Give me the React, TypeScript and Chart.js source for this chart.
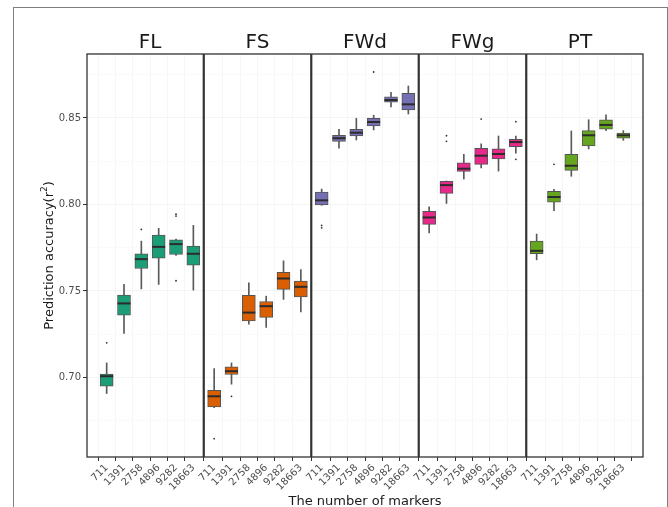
import React, { useEffect, useRef } from 'react';
import { Chart, registerables } from 'chart.js';

Chart.register(...registerables);

// ---------- data ----------
const markers = ['711', '1391', '2758', '4896', '9282', '18663'];
const traits = ['FL', 'FS', 'FWd', 'FWg', 'PT'];
const yTickValues = [0.675, 0.7, 0.725, 0.75, 0.775, 0.8, 0.825, 0.85, 0.875];

const FL_low = [0.6907, 0.7254, 0.7512, 0.7538, 0.7705, 0.7505];
const FL_q1 = [0.6949, 0.736, 0.763, 0.769, 0.7711, 0.7649];
const FL_med = [0.7007, 0.7428, 0.7684, 0.7755, 0.7771, 0.7715];
const FL_q3 = [0.702, 0.7476, 0.7715, 0.7823, 0.7796, 0.7759];
const FL_high = [0.7084, 0.7539, 0.7788, 0.7862, 0.78, 0.7879];
const FL_out = [[0, 0.72], [2, 0.7856], [4, 0.7944], [4, 0.7933], [4, 0.7559]];

const FS_low = [0.6825, 0.6961, 0.7308, 0.7289, 0.7451, 0.7379];
const FS_q1 = [0.6829, 0.7017, 0.7327, 0.7347, 0.7509, 0.7466];
const FS_med = [0.6891, 0.7036, 0.7375, 0.7412, 0.7572, 0.7524];
const FS_q3 = [0.6926, 0.7061, 0.7474, 0.7439, 0.7607, 0.7557];
const FS_high = [0.7051, 0.7084, 0.7547, 0.747, 0.7674, 0.7624];
const FS_out = [[0, 0.6646], [1, 0.6891]];

const FWd_low = [0.7995, 0.8325, 0.8373, 0.8431, 0.8564, 0.8523];
const FWd_q1 = [0.7998, 0.8365, 0.8396, 0.8454, 0.8591, 0.8546];
const FWd_med = [0.8024, 0.8383, 0.8415, 0.8477, 0.8604, 0.8579];
const FWd_q3 = [0.8072, 0.84, 0.8435, 0.8498, 0.8622, 0.8643];
const FWd_high = [0.8089, 0.8435, 0.8498, 0.8516, 0.8649, 0.8685];
const FWd_out = [[0, 0.7879], [0, 0.7865], [3, 0.8766]];

const FWg_low = [0.7836, 0.8006, 0.8147, 0.8212, 0.8193, 0.8296];
const FWg_q1 = [0.7885, 0.8064, 0.8191, 0.8232, 0.8263, 0.8334];
const FWg_med = [0.7925, 0.8112, 0.8207, 0.8282, 0.8292, 0.8361];
const FWg_q3 = [0.796, 0.8134, 0.8241, 0.8325, 0.8322, 0.8377];
const FWg_high = [0.7987, 0.8136, 0.829, 0.8351, 0.8396, 0.8396];
const FWg_out = [[1, 0.8398], [1, 0.8365], [3, 0.8494], [5, 0.8479], [5, 0.8261]];

const PT_low = [0.768, 0.7964, 0.8163, 0.8321, 0.8427, 0.8371];
const PT_q1 = [0.7715, 0.8014, 0.8197, 0.8338, 0.8435, 0.8384];
const PT_med = [0.7732, 0.8043, 0.8224, 0.84, 0.846, 0.84];
const PT_q3 = [0.7788, 0.8076, 0.829, 0.8427, 0.849, 0.8413];
const PT_high = [0.7829, 0.8087, 0.8425, 0.849, 0.8519, 0.8427];
const PT_out = [[1, 0.8232]];

const stats = [
  { low: FL_low, q1: FL_q1, med: FL_med, q3: FL_q3, high: FL_high, out: FL_out },
  { low: FS_low, q1: FS_q1, med: FS_med, q3: FS_q3, high: FS_high, out: FS_out },
  { low: FWd_low, q1: FWd_q1, med: FWd_med, q3: FWd_q3, high: FWd_high, out: FWd_out },
  { low: FWg_low, q1: FWg_q1, med: FWg_med, q3: FWg_q3, high: FWg_high, out: FWg_out },
  { low: PT_low, q1: PT_q1, med: PT_med, q3: PT_q3, high: PT_high, out: PT_out },
];

// ---------- styles / layout ----------
const traitColors = ['#1B9E77', '#D95F02', '#7570B3', '#E7298A', '#66A61E'];
const FONT = '"DejaVu Sans", "Liberation Sans", sans-serif';
const PANEL_SPAN = 6.2;
const PANEL_OFFSET = 0.6;
const xPos = (p: number, i: number) => p * PANEL_SPAN + PANEL_OFFSET + i;
const xTickValues: number[] = [];
traits.forEach((_, p) => markers.forEach((__, i) => xTickValues.push(xPos(p, i))));

const isMajor = (v: number) => Math.abs(v * 20 - Math.round(v * 20)) < 1e-6;

const decorPlugin = {
  id: 'decor',
  afterDraw(chart: any) {
    const { ctx, chartArea, scales } = chart;
    const xs = scales.x;
    ctx.save();
    // outer frame
    ctx.strokeStyle = '#7f7f7f';
    ctx.lineWidth = 1;
    ctx.strokeRect(13.5, 7.5, 654, 540);
    // panel frames
    ctx.strokeStyle = '#333333';
    ctx.lineWidth = 1.3;
    ctx.strokeRect(chartArea.left, chartArea.top, chartArea.right - chartArea.left, chartArea.bottom - chartArea.top);
    ctx.lineWidth = 2.2;
    for (let p = 1; p < traits.length; p++) {
      const px = xs.getPixelForValue(p * PANEL_SPAN);
      ctx.beginPath();
      ctx.moveTo(px, chartArea.top);
      ctx.lineTo(px, chartArea.bottom);
      ctx.stroke();
    }
    // strip labels
    ctx.fillStyle = '#1a1a1a';
    ctx.font = `20px ${FONT}`;
    ctx.textAlign = 'center';
    ctx.textBaseline = 'alphabetic';
    traits.forEach((t, p) => {
      const cx = (xs.getPixelForValue(p * PANEL_SPAN) + xs.getPixelForValue((p + 1) * PANEL_SPAN)) / 2;
      ctx.fillText(t, cx, 48);
    });
    // x title
    ctx.font = `13px ${FONT}`;
    ctx.fillText('The number of markers', (chartArea.left + chartArea.right) / 2, 505);
    // y title with superscript
    const a = 'Prediction accuracy(r';
    const b = '2';
    const c = ')';
    ctx.translate(52.5, (chartArea.top + chartArea.bottom) / 2);
    ctx.rotate(-Math.PI / 2);
    ctx.textAlign = 'left';
    ctx.font = `13px ${FONT}`;
    const wa = ctx.measureText(a).width;
    const wc = ctx.measureText(c).width;
    ctx.font = `9px ${FONT}`;
    const wb = ctx.measureText(b).width;
    const x0 = -(wa + wb + wc) / 2;
    ctx.font = `13px ${FONT}`;
    ctx.fillText(a, x0, 0);
    ctx.fillText(c, x0 + wa + wb, 0);
    ctx.font = `9px ${FONT}`;
    ctx.fillText(b, x0 + wa, -5.5);
    ctx.restore();
  },
};

export default function App() {
  const ref = useRef<HTMLCanvasElement | null>(null);

  useEffect(() => {
    document.body.style.margin = '0';
    const canvas = ref.current;
    if (!canvas) return;
    Chart.defaults.font.family = FONT;

    const datasets: any[] = [];
    stats.forEach((s, p) => {
      datasets.push({
        type: 'bar',
        data: markers.map((_, i) => ({ x: xPos(p, i), y: [s.low[i], s.high[i]] })),
        backgroundColor: '#5a5a5a',
        borderWidth: 0,
        barThickness: 1,
        grouped: false,
        order: 4,
      });
      datasets.push({
        type: 'bar',
        data: markers.map((_, i) => ({ x: xPos(p, i), y: [s.q1[i], s.q3[i]] })),
        backgroundColor: traitColors[p],
        borderColor: '#555555',
        borderWidth: 1,
        borderSkipped: false,
        barThickness: 13,
        grouped: false,
        order: 3,
      });
      datasets.push({
        type: 'scatter',
        data: markers.map((_, i) => ({ x: xPos(p, i), y: s.med[i] })),
        pointStyle: 'line',
        pointRadius: 6.5,
        borderColor: '#2b2b2b',
        borderWidth: 2,
        order: 2,
      });
      datasets.push({
        type: 'scatter',
        data: s.out.map(([i, v]) => ({ x: xPos(p, i), y: v })),
        pointStyle: 'circle',
        pointRadius: 0.9,
        backgroundColor: '#333333',
        borderWidth: 0,
        order: 1,
      });
    });

    const chart = new Chart(canvas, {
      type: 'bar',
      data: { datasets },
      options: {
        animation: false,
        responsive: false,
        events: [],
        layout: { padding: { top: 54, right: 25, bottom: 0, left: 0 } },
        plugins: { legend: { display: false }, tooltip: { enabled: false } },
        scales: {
          x: {
            type: 'linear',
            min: 0,
            max: traits.length * PANEL_SPAN,
            afterBuildTicks: (s: any) => {
              s.ticks = xTickValues.map((v) => ({ value: v }));
            },
            afterFit: (s: any) => {
              s.height = 50;
            },
            ticks: {
              autoSkip: false,
              minRotation: 45,
              maxRotation: 45,
              padding: 1,
              color: '#4d4d4d',
              font: { size: 10, family: FONT },
              callback: (_v: any, idx: number) => markers[idx % markers.length],
            },
            grid: { color: '#f6f6f6', tickColor: '#333333', tickLength: 4, lineWidth: 1 },
            border: { display: false },
          },
          y: {
            type: 'linear',
            min: 0.654,
            max: 0.887,
            afterBuildTicks: (s: any) => {
              s.ticks = yTickValues.map((v) => ({ value: v }));
            },
            afterFit: (s: any) => {
              s.width = 87;
            },
            ticks: {
              padding: 2,
              color: '#4d4d4d',
              font: { size: 10, family: FONT },
              callback: (v: any) => (isMajor(Number(v)) ? Number(v).toFixed(2) : ''),
            },
            grid: {
              color: (c: any) => (c.tick && isMajor(c.tick.value) ? '#f4f4f4' : '#fafafa'),
              tickColor: (c: any) => (c.tick && isMajor(c.tick.value) ? '#333333' : 'rgba(0,0,0,0)'),
              tickLength: 4,
            },
            border: { display: false },
          },
        },
      } as any,
      plugins: [decorPlugin],
    });
    return () => chart.destroy();
  }, []);

  return <canvas ref={ref} width={668} height={507} style={{ display: 'block', width: '668px', height: '507px' }} />;
}
